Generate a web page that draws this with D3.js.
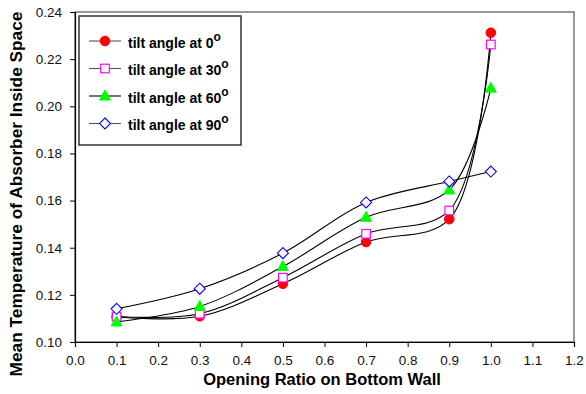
<!DOCTYPE html>
<html lang="en">
<head>
    <meta charset="UTF-8">
    <title>Mean temperature vs opening ratio</title>
    <script src="https://cdn.jsdelivr.net/npm/d3@7"></script>
    <style>
        body { margin: 0; background: #fff; }
        text { font-family: Arial, "Liberation Sans", sans-serif; }
    </style>
</head>
<body>
    <script>
        let width = 586,
            height = 394;
        let margin = { top: 12, left: 75, right: 12, bottom: 52 };

        // data
        let ratios = [0.1, 0.3, 0.5, 0.7, 0.9, 1.0];
        let tilt0  = [0.1106, 0.1109, 0.1247, 0.1424, 0.1521, 0.2312];
        let tilt30 = [0.1108, 0.1120, 0.1273, 0.1459, 0.1558, 0.2262];
        let tilt60 = [0.1085, 0.1151, 0.1320, 0.1529, 0.1645, 0.2077];
        let tilt90 = [0.1141, 0.1226, 0.1377, 0.1592, 0.1681, 0.1723];
        let seriesNames = ['0', '30', '60', '90'];
        let xTicks = [0, 0.1, 0.2, 0.3, 0.4, 0.5, 0.6, 0.7, 0.8, 0.9, 1.0, 1.1, 1.2];
        let yTicks = [0.10, 0.12, 0.14, 0.16, 0.18, 0.20, 0.22, 0.24];

        let series = [
            { name: seriesNames[0], values: tilt0,  marker: 'circle' },
            { name: seriesNames[1], values: tilt30, marker: 'square' },
            { name: seriesNames[2], values: tilt60, marker: 'triangle' },
            { name: seriesNames[3], values: tilt90, marker: 'diamond' }
        ];

        let svg = d3.select('body').append('svg')
            .attr('width', width)
            .attr('height', height);

        let x = d3.scaleLinear().domain([0, 1.2]).range([margin.left, width - margin.right]);
        let y = d3.scaleLinear().domain([0.10, 0.24]).range([height - margin.bottom, margin.top]);

        // plot frame (top/right)
        svg.append('rect')
            .attr('x', x(0)).attr('y', y(0.24))
            .attr('width', x(1.2) - x(0)).attr('height', y(0.10) - y(0.24))
            .attr('fill', 'none').attr('stroke', '#555').attr('stroke-width', 1.2);

        // axes
        let xAxis = svg.append('g')
            .attr('transform', `translate(0, ${y(0.10)})`)
            .call(d3.axisBottom(x).tickValues(xTicks).tickFormat(d3.format('.1f')).tickSize(5).tickPadding(8));
        let yAxis = svg.append('g')
            .attr('transform', `translate(${x(0)}, 0)`)
            .call(d3.axisLeft(y).tickValues(yTicks).tickFormat(d3.format('.2f')).tickSize(5).tickPadding(8));
        [xAxis, yAxis].forEach(a => {
            a.select('.domain').attr('stroke', '#000').attr('stroke-width', 1.2);
            a.selectAll('.tick line').attr('stroke', '#000');
            a.selectAll('.tick text').attr('font-size', 13.5).attr('fill', '#111')
                .attr('font-family', 'Arial, "Liberation Sans", sans-serif');
        });

        // axis titles
        svg.append('text')
            .attr('x', 322).attr('y', 385)
            .attr('text-anchor', 'middle')
            .attr('font-size', 16.5).attr('font-weight', 'bold')
            .text('Opening Ratio on Bottom Wall');
        svg.append('text')
            .attr('transform', `translate(22, 194) rotate(-90)`)
            .attr('text-anchor', 'middle')
            .attr('font-size', 17.3).attr('font-weight', 'bold')
            .text('Mean Temperature of Absorber Inside Space');

        // smooth lines
        let line = d3.line()
            .x((d, i) => x(ratios[i]))
            .y(d => y(d))
            .curve(d3.curveCatmullRom.alpha(0.5));

        svg.append('g').selectAll('path')
            .data(series)
            .enter()
            .append('path')
            .attr('d', d => line(d.values))
            .attr('fill', 'none')
            .attr('stroke', '#000')
            .attr('stroke-width', 1.1);

        // markers
        function drawMarker(g, type, cx, cy) {
            if (type === 'circle') {
                g.append('circle').attr('cx', cx).attr('cy', cy).attr('r', 4.8)
                 .attr('fill', '#ff0000').attr('stroke', '#ff0000');
            } else if (type === 'square') {
                g.append('rect').attr('x', cx - 4.3).attr('y', cy - 4.3).attr('width', 8.6).attr('height', 8.6)
                 .attr('fill', '#fff').attr('stroke', '#ff00ff').attr('stroke-width', 1.2);
            } else if (type === 'triangle') {
                g.append('path').attr('d', `M${cx},${cy - 6}L${cx + 5.5},${cy + 4}L${cx - 5.5},${cy + 4}Z`)
                 .attr('fill', '#00ff00').attr('stroke', '#00ff00');
            } else {
                g.append('path').attr('d', `M${cx},${cy - 5.5}L${cx + 5.5},${cy}L${cx},${cy + 5.5}L${cx - 5.5},${cy}Z`)
                 .attr('fill', '#fff').attr('stroke', '#0000ff').attr('stroke-width', 1.1);
            }
        }

        let markerG = svg.append('g');
        series.forEach(s => {
            s.values.forEach((v, i) => drawMarker(markerG, s.marker, x(ratios[i]), y(v)));
        });

        // legend
        let legend = svg.append('g');
        legend.append('rect')
            .attr('x', 79).attr('y', 16).attr('width', 162).attr('height', 129)
            .attr('fill', '#fff').attr('stroke', '#333').attr('stroke-width', 1.5);
        series.forEach((s, i) => {
            let ly = 41 + i * 27.5;
            legend.append('line')
                .attr('x1', 89).attr('x2', 121).attr('y1', ly).attr('y2', ly)
                .attr('stroke', s.marker === 'triangle' ? '#000' : '#555').attr('stroke-width', 1.1);
            drawMarker(legend, s.marker, 105, ly);
            let t = legend.append('text')
                .attr('x', 128).attr('y', ly + 6.5)
                .attr('font-size', 14).attr('font-weight', 'bold')
                .text('tilt angle at ' + s.name);
            t.append('tspan')
                .attr('dy', -7).attr('font-size', 12)
                .text('o');
        });
    </script>
</body>
</html>
